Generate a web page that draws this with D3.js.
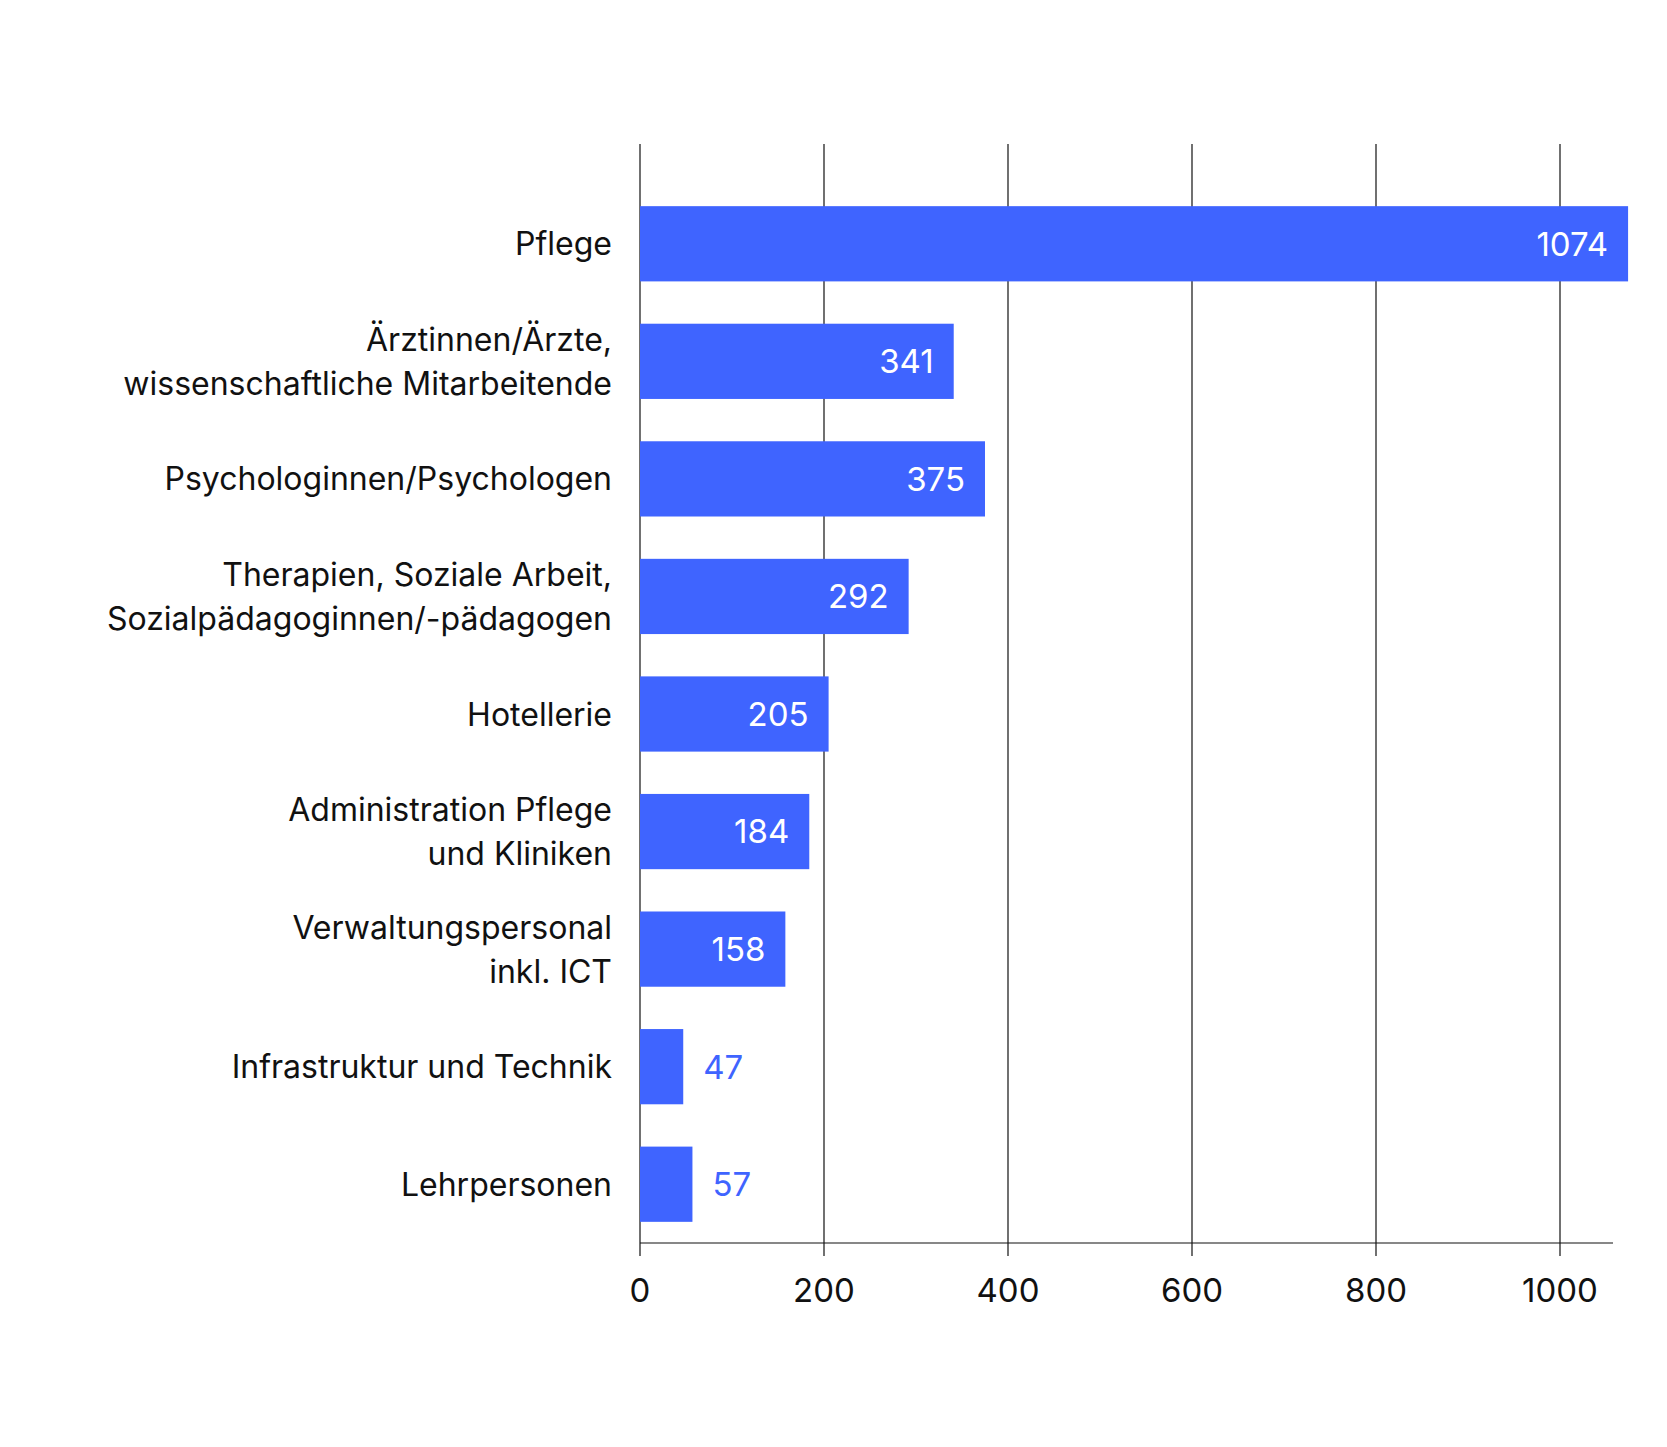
<!DOCTYPE html><html><head><meta charset="utf-8"><script src="https://cdn.jsdelivr.net/npm/d3@7"></script>
<style>body{margin:0;background:#fff}text{font-family:Inter,"Noto Sans",sans-serif}</style></head><body><svg id="c" width="1667" height="1447"></svg><script>
const categories=[["Pflege"],["Ärztinnen/Ärzte,","wissenschaftliche Mitarbeitende"],["Psychologinnen/Psychologen"],["Therapien, Soziale Arbeit,","Sozialpädagoginnen/-pädagogen"],["Hotellerie"],["Administration Pflege","und Kliniken"],["Verwaltungspersonal","inkl. ICT"],["Infrastruktur und Technik"],["Lehrpersonen"]];
const values=[1074,341,375,292,205,184,158,47,57];
const ticks=[0,200,400,600,800,1000];
const svg=d3.select("#c");const col="#3f64ff";
const x=d3.scaleLinear().domain([0,1000]).range([640,1560]);
const y=d3.scaleBand().domain(d3.range(values.length)).range([185,1243]).paddingInner(0.36).paddingOuter(0.18);
svg.append("g").selectAll("line").data(ticks).join("line").attr("x1",d=>x(d)).attr("x2",d=>x(d)).attr("y1",144).attr("y2",1256).attr("stroke","#111").attr("stroke-width",1.2);
svg.append("line").attr("x1",640).attr("x2",1613).attr("y1",1243).attr("y2",1243).attr("stroke","#111").attr("stroke-width",1.2);
svg.append("g").selectAll("text").data(ticks).join("text").attr("x",d=>x(d)).attr("y",1302).attr("text-anchor","middle").attr("font-size",33).attr("fill","#111").text(d=>d);
svg.append("g").selectAll("rect").data(values).join("rect").attr("x",x(0)).attr("y",(d,i)=>y(i)).attr("width",d=>x(d)-x(0)).attr("height",y.bandwidth()).attr("fill",col);
svg.append("g").selectAll("text").data(values).join("text").attr("x",d=>d>100?x(d)-20:x(d)+20).attr("y",(d,i)=>y(i)+y.bandwidth()/2).attr("dy","0.36em").attr("text-anchor",d=>d>100?"end":"start").attr("font-size",33).attr("fill",d=>d>100?"#fff":col).text(d=>d);
const g=svg.append("g").selectAll("text").data(categories).join("text").attr("text-anchor","end").attr("font-size",32).attr("fill","#111");
g.each(function(lines,i){const cy=y(i)+y.bandwidth()/2;const t=d3.select(this);lines.forEach((l,j)=>t.append("tspan").attr("x",612).attr("y",cy+(j-(lines.length-1)/2)*44).attr("dy","0.36em").text(l));});
</script></body></html>
